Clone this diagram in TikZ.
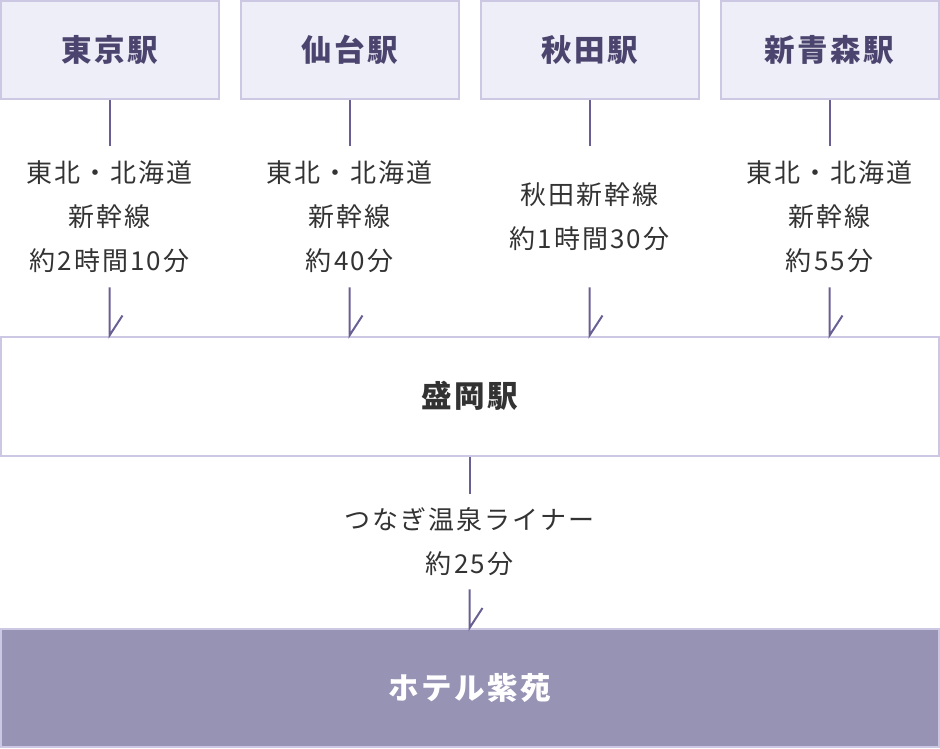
\documentclass[tikz,border=0pt]{standalone}
\usepackage{fontspec}
\setmainfont{Noto Sans CJK JP}[LetterSpace=8]
\usetikzlibrary{positioning}

\tikzset{every picture/.style={line width=0.75pt}}
\tikzset{
	station/.style={draw={rgb, 255:red, 204; green, 200; blue, 228 }, line width=2pt, fill={rgb, 255:red, 238; green, 238; blue, 248 }, minimum width=218pt, minimum height=98pt, inner sep=0pt, font=\fontsize{30.5}{36}\selectfont\bfseries, text={rgb, 255:red, 75; green, 68; blue, 110 }},
	hub/.style={draw={rgb, 255:red, 204; green, 200; blue, 228 }, line width=2pt, fill=white, minimum width=938pt, minimum height=119pt, inner sep=0pt, font=\fontsize{30.5}{36}\selectfont\bfseries, text={rgb, 255:red, 51; green, 51; blue, 51 }},
	hotel/.style={hub, fill={rgb, 255:red, 151; green, 147; blue, 181 }, minimum height=118pt, text=white},
	route/.style={align=center, inner sep=0pt, font=\fontsize{26}{44}\selectfont, text={rgb, 255:red, 51; green, 51; blue, 51 }},
	conn/.style={draw={rgb, 255:red, 106; green, 95; blue, 148 }, line width=2pt}
}

\begin{document}
\begin{tikzpicture}[x=1pt,y=1pt,yscale=-1,xscale=1]
	\useasboundingbox (0,0) rectangle (940,748);

	%Shape: Rectangle [stations]
	\node [station] (tokyo) at (109.5,50) {東京駅};
	\node [station] (sendai) at (349.5,50) {仙台駅};
	\node [station] (akita) at (589.5,50) {秋田駅};
	\node [station] (shinaomori) at (829.5,50) {新青森駅};
	%Shape: Rectangle [hub]
	\node [hub] (morioka) at (470,396) {盛岡駅};
	%Shape: Rectangle [hotel]
	\node [hotel] (shien) at (470,688) {ホテル紫苑};

	% Text Node
	\node [route, minimum height=141pt] (tokyoroute) at (109.5,216.5) {東北・北海道\\新幹線\\約2時間10分};
	% Text Node
	\node [route, minimum height=141pt] (sendairoute) at (349.5,216.5) {東北・北海道\\新幹線\\約40分};
	% Text Node
	\node [route, minimum height=141pt] (akitaroute) at (589.5,216.5) {秋田新幹線\\約1時間30分};
	% Text Node
	\node [route, minimum height=141pt] (aomoriroute) at (829.5,216.5) {東北・北海道\\新幹線\\約55分};
	% Text Node
	\node [route, minimum height=95pt] (linerroute) at (469.5,541.5) {つなぎ温泉ライナー\\約25分};

	%Straight Lines [to routes]
	\foreach \s/\r in {tokyo/tokyoroute, sendai/sendairoute, akita/akitaroute, shinaomori/aomoriroute} {
		\draw [conn] (\s.south -| \r.north) -- (\r.north) ;
		\draw [conn] (\r.south) -- (\r.south |- morioka.north) -- ++(13,-20) ;
	}
	%Straight Lines [to hotel]
	\draw [conn] (morioka.south -| linerroute.north) -- (linerroute.north) ;
	\draw [conn] (linerroute.south) -- (linerroute.south |- shien.north) -- ++(13,-20) ;

\end{tikzpicture}
\end{document}
